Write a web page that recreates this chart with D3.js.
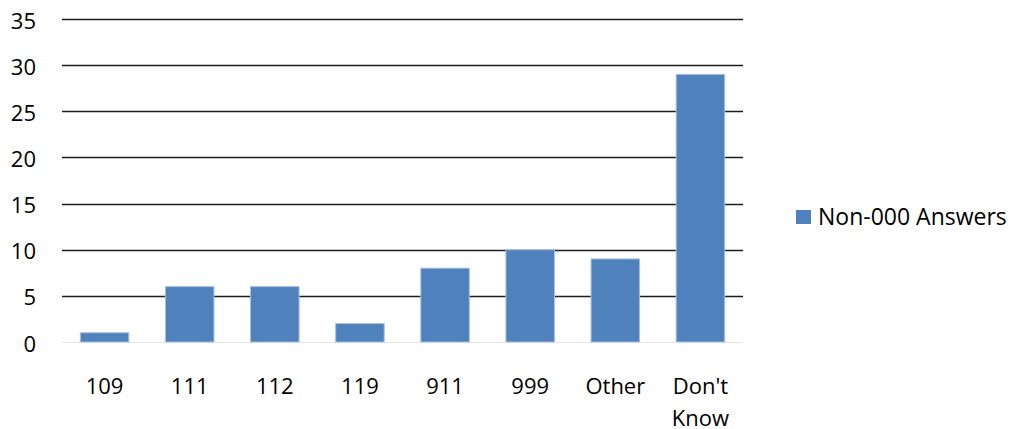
<!DOCTYPE html>
<html>
<head>
<meta charset="utf-8">
<script src="https://cdn.jsdelivr.net/npm/d3@7"></script>
<style>
  body { margin: 0; background: #fff; }
  text { font-family: "Open Sans", sans-serif; fill: #000; }
</style>
</head>
<body>
<div id="chart"></div>
<script>
// data
var categories = ["109", "111", "112", "119", "911", "999", "Other", "Don't Know"];
var answers = [1, 6, 6, 2, 8, 10, 9, 29];
var yTicks = [0, 5, 10, 15, 20, 25, 30, 35];
var seriesName = "Non-000 Answers";

var width = 1011, height = 429;
// plot area (window.top is reserved, so keep these in an object)
var plot = {left: 62, right: 743, top: 19, bottom: 342};

var svg = d3.select("#chart")
  .append("svg")
  .attr("width", width)
  .attr("height", height);

var x = d3.scaleBand()
  .domain(categories)
  .range([plot.left, plot.right])
  .paddingInner(0.43)
  .paddingOuter(0.215);

var y = d3.scaleLinear()
  .domain([0, 35])
  .range([plot.bottom, plot.top]);

// gridlines (dark), zero line is light grey
svg.append("g")
  .selectAll("line")
  .data(yTicks)
  .enter()
  .append("line")
  .attr("x1", plot.left)
  .attr("x2", plot.right)
  .attr("y1", function(d) { return Math.round(y(d)) + 0.5; })
  .attr("y2", function(d) { return Math.round(y(d)) + 0.5; })
  .attr("stroke", function(d) { return d === 0 ? "#e6e6e6" : "#1c1c1c"; })
  .attr("stroke-width", function(d) { return d === 0 ? 1 : 1.5; });

// y axis labels
var yAxis = d3.axisLeft(y).tickValues(yTicks).tickSize(0).tickPadding(0);
var gy = svg.append("g")
  .attr("transform", "translate(36,2)")
  .call(yAxis);
gy.select(".domain").remove();
gy.selectAll("text")
  .style("font-family", "'Open Sans', sans-serif")
  .style("font-size", "22px")
  .attr("fill", "#000");

// bars
svg.selectAll("rect.bar")
  .data(answers)
  .enter()
  .append("rect")
  .attr("class", "bar")
  .attr("x", function(d, i) { return x(categories[i]); })
  .attr("y", function(d) { return y(d); })
  .attr("width", x.bandwidth())
  .attr("height", function(d) { return plot.bottom - y(d); })
  .attr("fill", "#4f81bd")
  .attr("stroke", "#a7c0e0")
  .attr("stroke-width", 1);

// x axis labels, wrapped on spaces
var xAxis = d3.axisBottom(x).tickSize(0).tickPadding(0);
var gx = svg.append("g")
  .attr("transform", "translate(0,372)")
  .call(xAxis);
gx.select(".domain").remove();
gx.selectAll("text")
  .style("font-family", "'Open Sans', sans-serif")
  .style("font-size", "22px")
  .attr("fill", "#000")
  .attr("dy", null)
  .attr("y", 22)
  .each(function(d) {
    var t = d3.select(this);
    var words = d.split(" ");
    t.text(null);
    words.forEach(function(w, i) {
      t.append("tspan")
        .attr("x", 0)
        .attr("dy", i === 0 ? 0 : 32)
        .text(w);
    });
  });

// legend
var legend = svg.append("g").attr("transform", "translate(796,210)");
legend.append("rect")
  .attr("width", 15)
  .attr("height", 14)
  .attr("fill", "#4f81bd");
legend.append("text")
  .attr("x", 22)
  .attr("y", 15)
  .style("font-size", "23px")
  .text(seriesName);
</script>
</body>
</html>
